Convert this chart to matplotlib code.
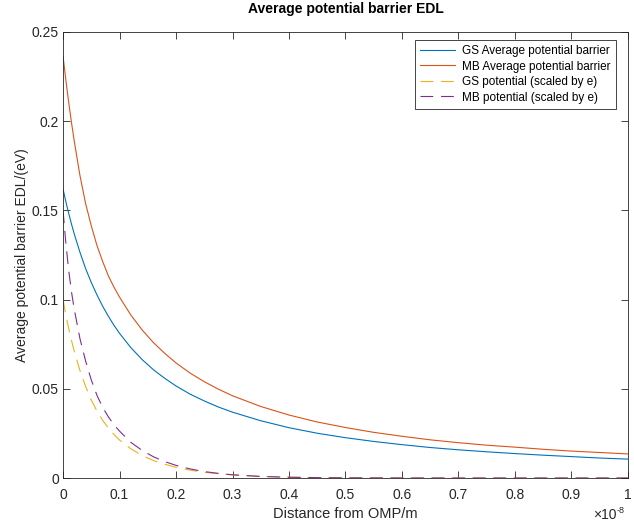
import numpy as np
import matplotlib
matplotlib.use("Agg")
import matplotlib.pyplot as plt

plt.rcParams['font.family'] = ['Liberation Sans', 'DejaVu Sans']

# distance from OMP, in units of 1e-8 m
dist = [0, 0.005, 0.01, 0.015, 0.02, 0.03, 0.04, 0.05, 0.06, 0.07, 0.08, 0.09, 0.10,
        0.12, 0.14, 0.16, 0.18, 0.20, 0.225, 0.25, 0.275, 0.30, 0.35, 0.40, 0.45, 0.50,
        0.55, 0.60, 0.65, 0.70, 0.75, 0.80, 0.85, 0.90, 0.95, 1.00]

gs_avg = [0.162, 0.1549, 0.1484, 0.1423, 0.1367, 0.1265, 0.1174, 0.1096, 0.1027, 0.0964,
          0.0908, 0.0857, 0.0811, 0.0731, 0.0664, 0.0607, 0.0559, 0.0516, 0.0470, 0.0432,
          0.0398, 0.0369, 0.0321, 0.0282, 0.0251, 0.0226, 0.0205, 0.0187, 0.0171, 0.0158,
          0.0147, 0.0137, 0.0128, 0.0120, 0.0112, 0.0106]
mb_avg = [0.2365, 0.2231, 0.2107, 0.1992, 0.1886, 0.1695, 0.1538, 0.1414, 0.1304, 0.1215,
          0.1135, 0.1071, 0.1014, 0.0914, 0.0830, 0.0759, 0.0699, 0.0645, 0.0588, 0.0540,
          0.0498, 0.0461, 0.0401, 0.0353, 0.0314, 0.0283, 0.0256, 0.0234, 0.0214, 0.0198,
          0.0184, 0.0173, 0.0161, 0.0151, 0.0143, 0.0135]
gs_pot = [0.100, 0.0914, 0.0839, 0.0771, 0.0709, 0.0602, 0.0513, 0.0437, 0.0376, 0.0324,
          0.0282, 0.0245, 0.0213, 0.0164, 0.0126, 0.0098, 0.0077, 0.0060, 0.0044, 0.0032,
          0.0024, 0.00175, 0.00094, 0.0005, 0.00027, 0.00015, 0.00008, 0.00004, 0.00002,
          0.0, 0.0, 0.0, 0.0, 0.0, 0.0, 0.0]
mb_pot = [0.150, 0.1317, 0.1165, 0.1043, 0.0944, 0.0781, 0.0656, 0.0550, 0.0464, 0.0397,
          0.0344, 0.0299, 0.0263, 0.0200, 0.0155, 0.0119, 0.0092, 0.0071, 0.0051, 0.0036,
          0.0026, 0.0018, 0.00087, 0.00042, 0.0002, 0.0001, 0.00005, 0.00002, 0.00001,
          0.0, 0.0, 0.0, 0.0, 0.0, 0.0, 0.0]

x = np.array(dist) * 1e-8

fig = plt.figure(figsize=(6.34, 5.21), dpi=100)
ax = fig.add_axes([0.0994, 0.0825, 0.8911, 0.8561])

dash = (0, (11.5, 7))
ax.plot(x, gs_avg, color='#0072BD', lw=0.8, label='GS Average potential barrier')
ax.plot(x, mb_avg, color='#D95319', lw=0.8, label='MB Average potential barrier')
ax.plot(x, gs_pot, color='#EDB120', lw=0.8, ls=dash, label='GS potential (scaled by e)')
ax.plot(x, mb_pot, color='#7E2F8E', lw=0.8, ls=dash, label='MB potential (scaled by e)')

ax.set_xlim(0, 1e-8)
ax.set_ylim(0, 0.25)
xt = np.arange(0, 1.01, 0.1)
ax.set_xticks(xt * 1e-8)
ax.set_xticklabels(['0', '0.1', '0.2', '0.3', '0.4', '0.5', '0.6', '0.7', '0.8', '0.9', '1'])
ax.set_yticks([0, 0.05, 0.1, 0.15, 0.2, 0.25])
ax.set_yticklabels(['0', '0.05', '0.1', '0.15', '0.2', '0.25'])
ax.tick_params(direction='in', top=True, right=True, length=5, width=0.6,
               labelsize=10, colors='#262626')
ax.tick_params(axis='x', pad=7)
ax.tick_params(axis='y', pad=3)
for s in ax.spines.values():
    s.set_linewidth(0.6)
    s.set_color('#262626')

# MATLAB-style exponent under the right end of the x axis
ax.text(0.980, -0.093, '\u00d710', transform=ax.transAxes, ha='right', va='baseline',
        fontsize=10, color='#262626')
ax.text(0.9805, -0.0785, '-8', transform=ax.transAxes, ha='left', va='baseline',
        fontsize=6.5, color='#262626')

ax.set_xlabel('Distance from OMP/m', fontsize=10.5, color='#262626', labelpad=4)
ax.set_ylabel('Average potential barrier EDL/(eV)', fontsize=10, color='#262626', labelpad=2)
ax.set_title('Average potential barrier EDL', fontsize=10, fontweight='bold', pad=14)

leg = ax.legend(loc='upper left', fontsize=8.5, fancybox=False, edgecolor='#262626',
                framealpha=1, handlelength=3.0, handletextpad=0.6, borderpad=0.42,
                labelspacing=0.3, borderaxespad=0,
                bbox_to_anchor=(415 / 634, 1 - 40 / 521), bbox_transform=fig.transFigure)
leg.get_frame().set_linewidth(0.6)

fig.savefig('out.png', dpi=100)
